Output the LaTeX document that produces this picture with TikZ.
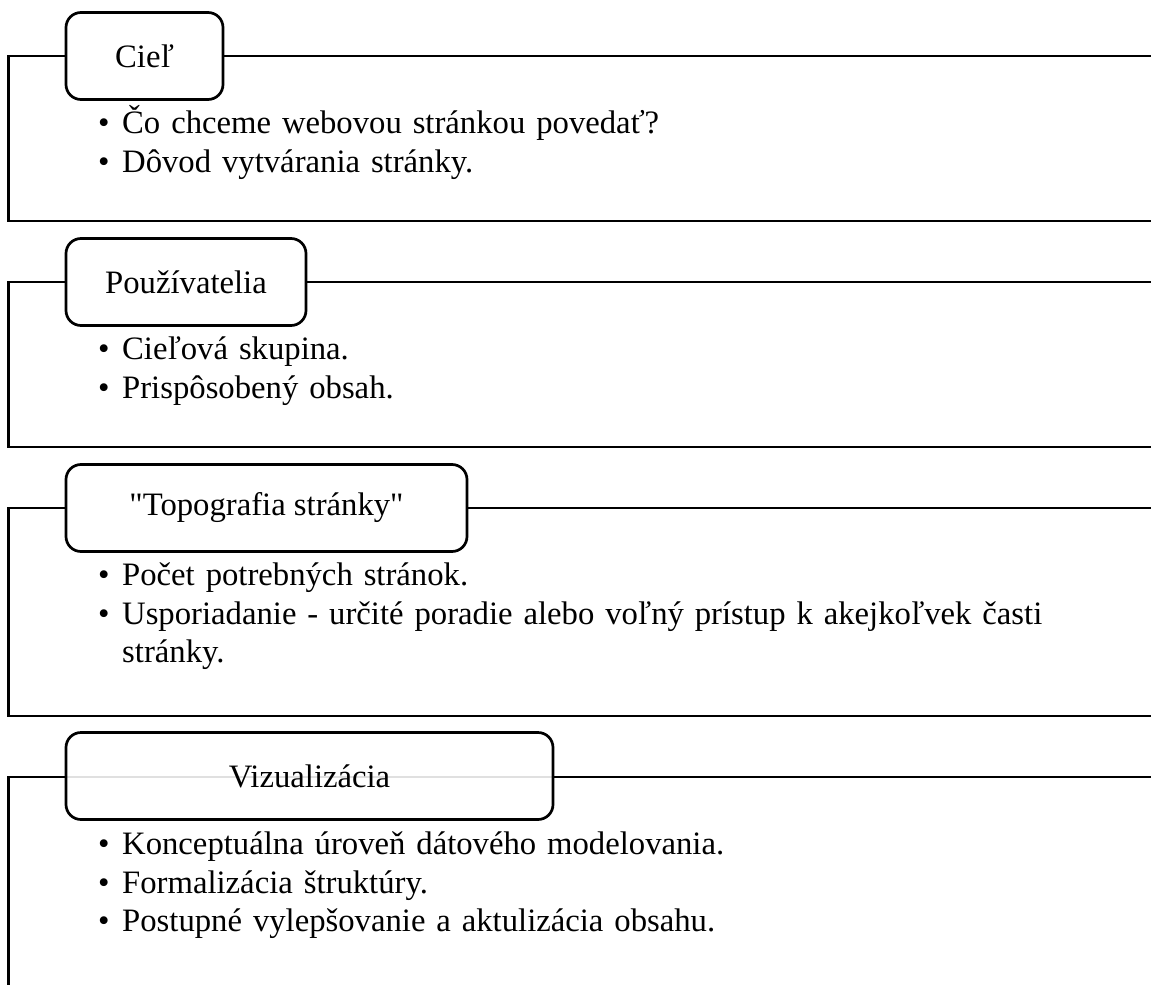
\documentclass[tikz,border=0pt]{standalone}
\usepackage{fontspec}
\setmainfont{Liberation Serif}[Ligatures=TeXOff]
% one bullet point with a hanging indent for wrapped lines
\newcommand\bulletitem[1]{\noindent\hangindent=24pt\hangafter=1\makebox[24pt][l]{\textbullet}#1\par}
\begin{document}
\begin{tikzpicture}[x=1pt,y=-1pt,
  rule/.style={line width=2.7pt, draw=black, line join=miter},
  heading/.style={draw=black, line width=2.7pt, rounded corners=15pt, fill=white,
    minimum height=87pt, inner sep=0pt, font=\fontsize{32.7}{38.7}\selectfont},
  points/.style={anchor=base west, inner sep=0pt, text width=1000pt,
    font=\fontsize{32.7}{38.7}\selectfont}]
\useasboundingbox (0,0) rectangle (1151,985);

% --- Cieľ
\coordinate (c1) at (8.5,56);
\coordinate (r1) at (1155,56);
\coordinate (b1) at (8.5,221);
\coordinate (e1) at (1155,221);
\draw[rule] (r1) -- (c1) -- (b1) -- (e1);
\node[heading, minimum width=157pt] (h1) at (144.5,56) {Cieľ};
\node[points] (p1) at (98,133.5) {%
  \bulletitem{Čo chceme webovou stránkou povedať?}%
  \bulletitem{Dôvod vytvárania stránky.}};

% --- Používatelia
\coordinate (c2) at (8.5,282);
\coordinate (r2) at (1155,282);
\coordinate (b2) at (8.5,447);
\coordinate (e2) at (1155,447);
\draw[rule] (r2) -- (c2) -- (b2) -- (e2);
\node[heading, minimum width=240pt] (h2) at (186,282) {Používatelia};
\node[points] (p2) at (98,359.5) {%
  \bulletitem{Cieľová skupina.}%
  \bulletitem{Prispôsobený obsah.}};

% --- Topografia stránky
\coordinate (c3) at (8.5,508);
\coordinate (r3) at (1155,508);
\coordinate (b3) at (8.5,716);
\coordinate (e3) at (1155,716);
\draw[rule] (r3) -- (c3) -- (b3) -- (e3);
\node[heading, minimum width=401pt] (h3) at (266.5,508) {"Topografia stránky"};
\node[points] (p3) at (98,585.5) {%
  \bulletitem{Počet potrebných stránok.}%
  \bulletitem{Usporiadanie - určité poradie alebo voľný prístup k akejkoľvek časti\newline stránky.}};

% --- Vizualizácia (its box lets the rule show through faintly)
\coordinate (c4) at (8.5,777);
\coordinate (r4) at (1155,777);
\coordinate (b4) at (8.5,990);
\draw[rule] (r4) -- (c4) -- (b4);
\node[heading, minimum width=487pt, fill opacity=0.88, text opacity=1] (h4) at (309.5,776) {Vizualizácia};
\node[points] (p4) at (98,854.5) {%
  \bulletitem{Konceptuálna úroveň dátového modelovania.}%
  \bulletitem{Formalizácia štruktúry.}%
  \bulletitem{Postupné vylepšovanie a aktulizácia obsahu.}};
\end{tikzpicture}
\end{document}
